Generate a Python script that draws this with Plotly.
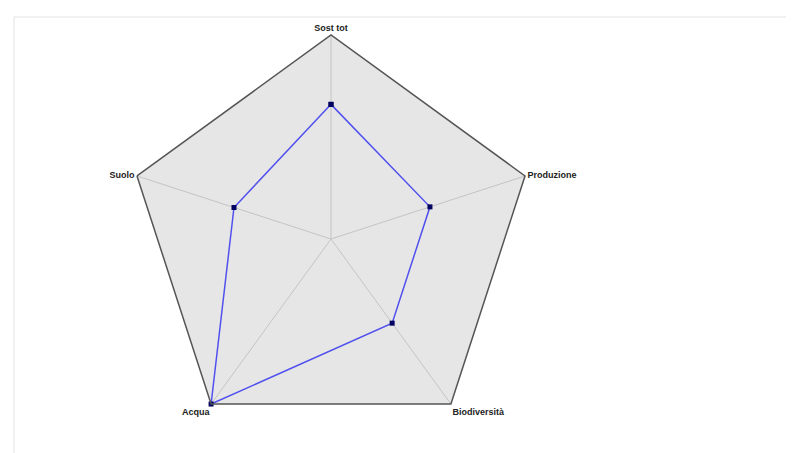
import plotly.graph_objects as go

categories = ["Sost tot", "Produzione", "Biodiversità", "Acqua", "Suolo"]
values = [0.66, 0.51, 0.51, 1.0, 0.5]

W, H = 794, 453
cx, cy, R = 323, 231, 204

fig = go.Figure()
fig.add_trace(go.Scatterpolar(
    r=values + [values[0]],
    theta=categories + [categories[0]],
    mode="lines+markers",
    line=dict(color="#5050ee", width=1.5),
    marker=dict(color="#000060", size=5, symbol="square"),
    showlegend=False,
))

fig.update_layout(
    width=W, height=H,
    margin=dict(l=0, r=0, t=0, b=0),
    paper_bgcolor="white",
    plot_bgcolor="white",
    polar=dict(
        domain=dict(x=[(cx - R) / W, (cx + R) / W], y=[(H - cy - R) / H, (H - cy + R) / H]),
        gridshape="linear",
        bgcolor="#e6e6e6",
        radialaxis=dict(range=[0, 1], visible=False, showgrid=False),
        angularaxis=dict(
            direction="clockwise", rotation=90,
            linecolor="#555555", linewidth=1.5,
            gridcolor="#c4c4c4", gridwidth=1,
            ticks="", showline=True,
            tickfont=dict(family="Liberation Sans Narrow, Liberation Sans, Arial", size=9,
                          color="#222222", weight="bold"),
        ),
    ),
    shapes=[dict(type="rect", xref="paper", yref="paper",
                 x0=6 / W, x1=1.01, y0=-0.01, y1=1 - 9 / H,
                 line=dict(color="#e2e2e2", width=1))],
)

fig.write_html("out.html")
